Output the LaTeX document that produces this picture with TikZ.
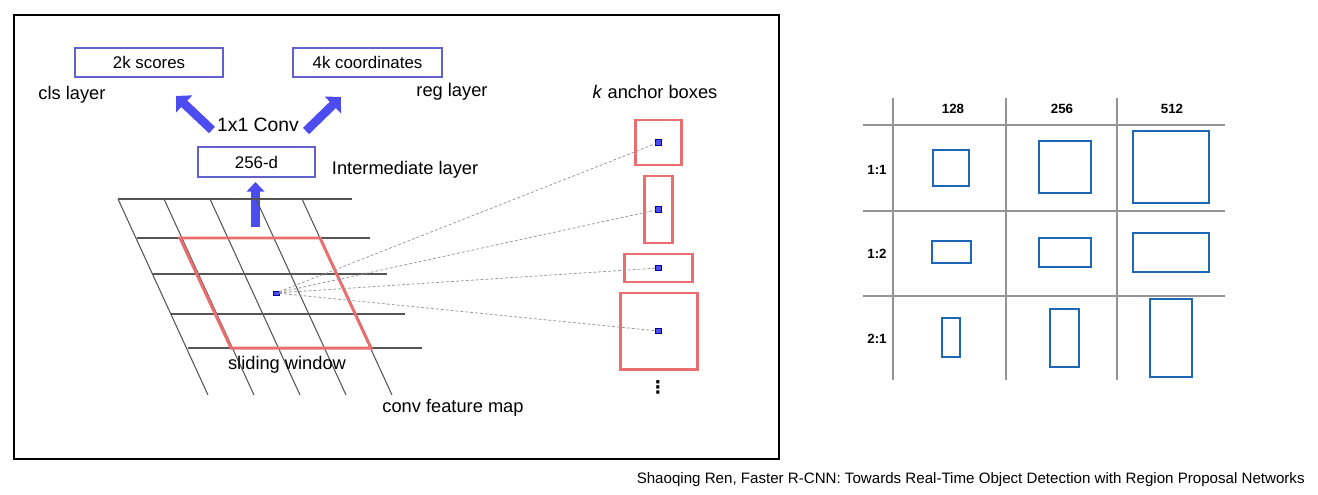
\documentclass[tikz,border=0pt]{standalone}
\usepackage{fontspec}
\setmainfont{Liberation Sans}
\newfontfamily\symfont{DejaVu Sans}
\usetikzlibrary{arrows.meta,positioning}
\definecolor{winred}{RGB}{234,110,110}
\definecolor{fatblue}{RGB}{76,76,240}
\definecolor{boxblue}{RGB}{96,96,206}
\definecolor{tabblue}{RGB}{28,104,182}
\definecolor{gridgray}{RGB}{85,85,85}
\tikzset{
	txt/.style={inner sep=0pt, font=\fontsize{10.4}{12}\selectfont},
	layerbox/.style={draw=boxblue, line width=0.7pt, inner sep=0pt, minimum height=0.58cm, font=\fontsize{9.6}{11}\selectfont},
	fatarrow/.style={draw=fatblue, line width=5pt, -{Triangle[length=6.5pt, width=13pt]}},
	anchorbox/.style={draw=winred, line width=1.7pt, inner sep=0pt},
	ctrdot/.style={fill=fatblue, draw=blue!60!black, line width=0.3pt, inner sep=0pt, minimum size=0.11cm},
	rayline/.style={gray!80, line width=0.45pt, dash pattern=on 1.6pt off 1.2pt},
	tabline/.style={draw=gray!85, line width=0.8pt},
	tabbox/.style={draw=tabblue, line width=1.1pt},
	tablabel/.style={inner sep=0pt, font=\bfseries\fontsize{7.6}{9}\selectfont}
}
\begin{document}
\begin{tikzpicture}[x=0.02cm, y=-0.02cm]
			\useasboundingbox (0,0) rectangle (1318,494);
			% left panel frame
			\draw[line width=0.6pt] (14,15) rectangle (779,459);
			% output layers
			\node[layerbox, minimum width=2.96cm] (scores) at (149,62.5) {2k scores};
			\node[layerbox, minimum width=2.98cm] (coords) at (367.5,62.5) {4k coordinates};
			\node[txt] (cls) at (72,95) {cls layer};
			\node[txt] (reg) at (452,92) {reg layer};
			\node[txt, font=\fontsize{11}{13}\selectfont] (conv) at (258,125) {1x1 Conv};
			\node[layerbox, minimum width=2.34cm, minimum height=0.6cm] (inter) at (256.5,162) {256-d};
			\node[txt, right=0.32cm of inter, yshift=-0.16cm] (interlbl) {Intermediate layer};
			% fat arrows
			\coordinate (clsfoot) at (212,130);
			\coordinate (clstip) at (176,96);
			\coordinate (regfoot) at (306,131);
			\coordinate (regtip) at (341,97);
			\coordinate (upfoot) at (255.5,227);
			\coordinate (uptip) at (255.5,182);
			\draw[fatarrow] (clsfoot) -- (clstip);
			\draw[fatarrow] (regfoot) -- (regtip);
			\draw[fatarrow, line width=4.6pt, -{Triangle[length=5.5pt, width=10pt]}] (upfoot) -- (uptip);
			% feature map grid
			\foreach \y/\xa/\xb in {199/118/352, 238/137/370, 274/153/387, 314/171/405, 348/188/422}{
				\draw[gridgray, line width=0.6pt] (\xa,\y) -- (\xb,\y);
			}
			\foreach \i in {0,...,4}{
				\pgfmathsetmacro{\xt}{118+46*\i}%
				\pgfmathsetmacro{\xbt}{208+46*\i}%
				\draw[gridgray, line width=0.6pt] (\xt,199) -- (\xbt,395);
			}
			% sliding window
			\draw[winred, line width=1.7pt, line join=miter] (180,238) -- (320,238) -- (371,348) -- (231,348) -- cycle;
			\node[ctrdot, minimum width=0.12cm, minimum height=0.08cm] (centre) at (276,293) {};
			\node[txt] (slide) at (287,365) {sliding window};
			\node[txt] (fmap) at (453,408) {conv feature map};
			% anchor boxes
			\node[txt] (k) at (655,92) {\textit{k} anchor boxes};
			\foreach \n/\w/\h/\y in {1/46/45/142.5, 2/28/67/209.5, 3/68/28/268, 4/77/76/331}{
				\node[anchorbox, minimum width=\w*0.02cm, minimum height=\h*0.02cm] (anc\n) at (658.5,\y) {};
				\node[ctrdot] (dot\n) at (anc\n.center) {};
				\draw[rayline] (centre) -- (dot\n);
			}
			\node[inner sep=0pt, font=\symfont\bfseries\fontsize{10}{11}\selectfont] (more) at (658,387) {⋮};
			% scales and ratios table
			\foreach \x in {893,1006,1117}{
				\draw[tabline] (\x,98) -- (\x,380);
			}
			\foreach \y in {125,211,296}{
				\draw[tabline] (863,\y) -- (1225,\y);
			}
			\node[tablabel] (s128) at (953,109) {128};
			\node[tablabel] (s256) at (1062,109) {256};
			\node[tablabel] (s512) at (1172,109) {512};
			\node[tablabel] (r11) at (877,170) {1:1};
			\node[tablabel] (r12) at (877,254) {1:2};
			\node[tablabel] (r21) at (877,339) {2:1};
			% boxes per scale and ratio
			\foreach \xa/\ya/\xb/\yb in {933/150/969/186, 1039/141/1091/193, 1133/131/1209/203,
				932/241/971/263, 1039/238/1091/267, 1133/233/1209/272,
				942/318/960/357, 1050/309/1079/367, 1150/299/1192/377}{
				\draw[tabbox] (\xa,\ya) rectangle (\xb,\yb);
			}
			% source
			\node[inner sep=0pt, anchor=east, font=\fontsize{8.6}{10}\selectfont] (src) at (1305,480) {Shaoqing Ren, Faster R-CNN: Towards Real-Time Object Detection with Region Proposal Networks};
\end{tikzpicture}
\end{document}
